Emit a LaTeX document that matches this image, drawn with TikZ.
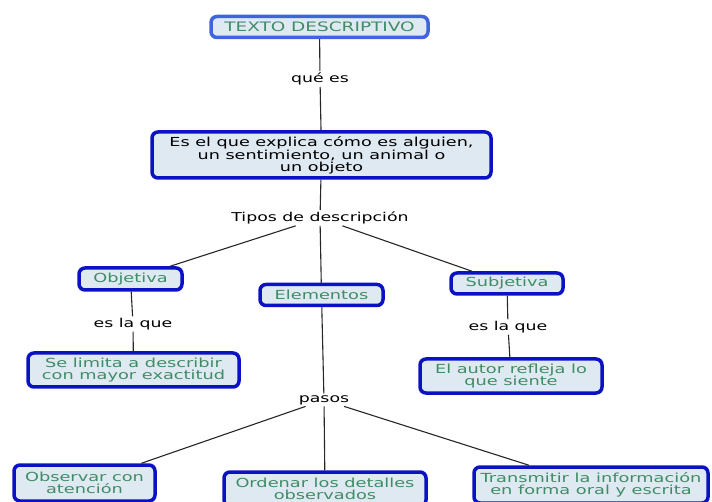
\documentclass[tikz,border=0pt]{standalone}
\usepackage{fontspec}
\setmainfont{DejaVu Sans}[FakeStretch=1.42]
\usepackage{tikz}
\definecolor{boxblue}{HTML}{0A12C4}
\definecolor{topblue}{HTML}{3F64DE}
\definecolor{boxfill}{HTML}{DFE9F1}
\definecolor{txtgreen}{HTML}{3F8C66}
\tikzstyle{concept}=[rectangle, rounded corners=6pt, draw=boxblue, fill=boxfill, line width=3.5pt, text=txtgreen, align=center, inner sep=0pt, font=\fontsize{12.5}{12.2}\selectfont]
\tikzstyle{linkword}=[inner sep=1.5pt, font=\fontsize{12.2}{12.5}\selectfont]
\tikzstyle{conn}=[draw=black!85, line width=1.1pt]

\begin{document}
\begin{tikzpicture}[x=1pt, y=-1pt]
                    \useasboundingbox (0,0) rectangle (712,502);
                    \node[concept, draw=topblue, minimum width=217, minimum height=21, font=\fontsize{13}{13}\selectfont] (td) at (319.5, 27) {TEXTO DESCRIPTIVO};
                    \node[concept, text=black, minimum width=339, minimum height=46, font=\fontsize{12.4}{12}\selectfont] (def) at (321.5, 155) {Es el que explica cómo es alguien,\\un sentimiento, un animal o\\un objeto};
                    \node[concept, minimum width=103, minimum height=22] (obj) at (130.5, 279) {Objetiva};
                    \node[concept, minimum width=123, minimum height=21] (elem) at (321.5, 295) {Elementos};
                    \node[concept, minimum width=112, minimum height=21] (subj) at (507, 283.5) {Subjetiva};
                    \node[concept, minimum width=211, minimum height=34] (obj2) at (133.5, 370) {Se limita a describir\\con mayor exactitud};
                    \node[concept, minimum width=182, minimum height=34] (subj2) at (511, 376) {El autor refleja lo\\que siente};
                    \node[concept, minimum width=141, minimum height=36] (p1) at (84.5, 483) {Observar con\\atención};
                    \node[concept, minimum width=202, minimum height=34] (p2) at (325, 489) {Ordenar los detalles\\observados};
                    \node[concept, minimum width=234, minimum height=36] (p3) at (591, 485) {Transmitir la información\\en forma oral y escrita};
                    \node[linkword] (qe)   at (320, 79)  {qué es};
                    \node[linkword] (tip)  at (320, 218) {Tipos de descripción};
                    \node[linkword] (el1)  at (133, 324) {es la que};
                    \node[linkword] (el2)  at (508, 327) {es la que};
                    \node[linkword] (pas)  at (324, 400) {pasos};
                    \draw[conn] (td) to (qe) (qe) to (def);
                    \draw[conn] (def) to (tip);
                    \draw[conn] (tip) to (obj) (tip) to (elem) (tip) to (subj);
                    \draw[conn] (obj) to (el1) (el1) to (obj2);
                    \draw[conn] (subj) to (el2) (el2) to (subj2);
                    \draw[conn] (elem) to (pas);
                    \draw[conn] (pas) to (p1) (pas) to (p2) (pas) to (p3);
                \end{tikzpicture}
\end{document}
